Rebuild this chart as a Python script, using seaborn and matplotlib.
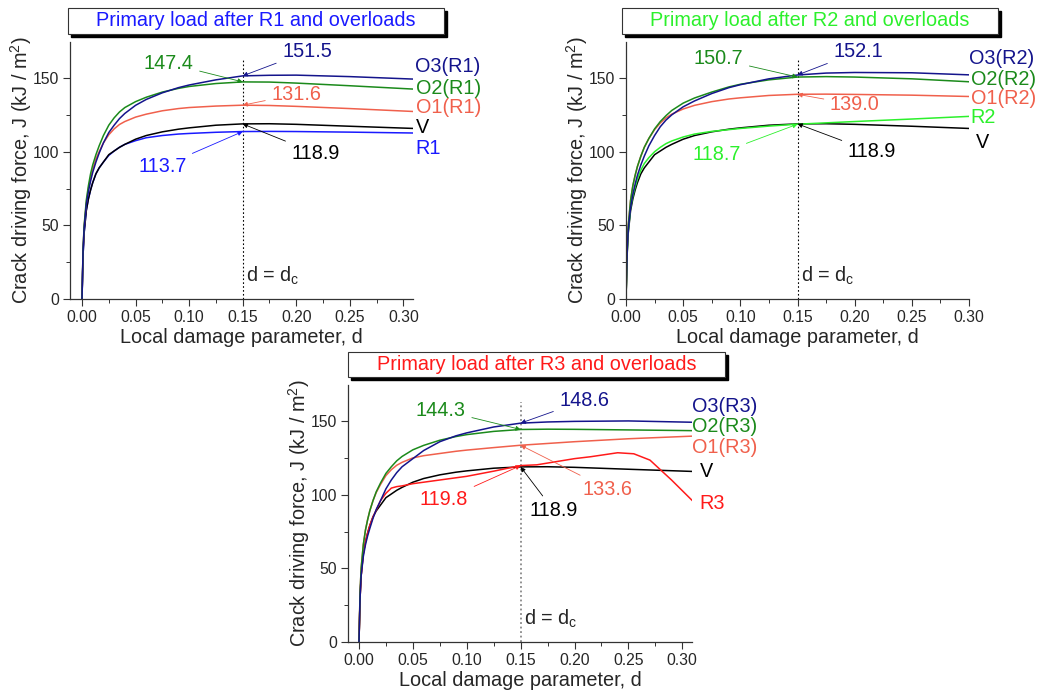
import matplotlib
matplotlib.use("Agg")
import matplotlib.pyplot as plt
import seaborn as sns
import pandas as pd
from matplotlib.patches import Rectangle
from matplotlib.ticker import MultipleLocator

# ---------------- data ----------------
D_C = 0.15
D_GRID = [0.000, 0.001, 0.002, 0.004, 0.006, 0.008, 0.010, 0.013, 0.016, 0.020,
          0.025, 0.030, 0.035, 0.040, 0.050, 0.060, 0.075, 0.090, 0.100, 0.125,
          0.150, 0.175, 0.200, 0.250, 0.310]
D_GRID2 = [0.000, 0.001, 0.002, 0.004, 0.006, 0.008, 0.010, 0.013, 0.016, 0.020,
           0.025, 0.030, 0.035, 0.040, 0.050, 0.060, 0.075, 0.090, 0.100, 0.125,
           0.150, 0.175, 0.200, 0.250, 0.300]

J_V = [0, 30, 45, 60, 68, 74, 79, 85, 89, 93, 98, 100.5, 103, 105, 108.5, 111,
       113.5, 115.3, 116.2, 118, 118.9, 119, 118.6, 117.3, 115.8]

# Panel R1
J_R1 = [0, 30, 45, 60, 68, 74, 79, 85, 89, 93, 97.5, 100.5, 103, 105, 107.5, 109.5,
        111, 112, 112.4, 113.2, 113.7, 113.8, 113.7, 113.3, 112.7]
J_O1_R1 = [0, 33, 49, 65, 75, 82, 88, 95, 100, 106, 111.5, 115.5, 118.5, 120.5, 123.5,
           125.5, 127.8, 129.3, 130, 131, 131.6, 131.4, 130.8, 129.3, 127.3]
J_O2_R1 = [0, 34, 50, 67, 77, 85, 91, 98, 104, 111, 118, 123, 127, 130, 134, 137,
           140.5, 143, 144.3, 146.3, 147.4, 147.3, 146.6, 144.8, 142.5]
J_O3_R1 = [0, 33, 48, 64, 73, 80, 86, 93, 99, 106, 113, 118, 122.5, 126, 131.5, 135.5,
           140, 143.5, 145.3, 148.8, 151.5, 151.9, 152.0, 151.0, 149.3]

# Panel R2
J_R2 = [0, 31, 46, 62, 70, 76, 81.5, 87.5, 92, 96, 100, 103, 105.5, 107.3, 110, 112,
        113.8, 115, 115.8, 117.4, 118.7, 119.6, 120.5, 122.2, 124.0]
J_O1_R2 = [0, 34, 50, 67, 77, 84, 90, 97, 103, 109, 115, 119.5, 123, 125.5, 129,
           131.5, 134, 135.8, 136.6, 138.2, 139.0, 139.1, 138.9, 138.4, 137.5]
J_O2_R2 = [0, 34, 50, 67, 77, 84, 90, 97, 103, 109, 115.5, 120.5, 124.5, 128, 133,
           136.5, 140.5, 144, 145.8, 148.8, 150.7, 151, 150.7, 149.5, 147.5]
J_O3_R2 = [0, 32, 47, 62, 71, 78, 84, 91, 97, 104, 111, 117, 121.5, 125, 130.5,
           134.5, 139.5, 143.5, 145.5, 149.5, 152.1, 153.4, 153.8, 153.6, 152.2]

# Panel R3
D_R3 = [0.000, 0.001, 0.002, 0.004, 0.006, 0.008, 0.010, 0.013, 0.016, 0.020, 0.025,
        0.030, 0.035, 0.040, 0.050, 0.060, 0.075, 0.090, 0.100, 0.125, 0.150, 0.165,
        0.175, 0.200, 0.215, 0.240, 0.255, 0.270, 0.290, 0.310]
J_R3 = [0, 30, 45, 60, 68, 74, 79, 85, 89.5, 96, 101, 104.5, 105.5, 106, 107.5, 108.5,
        110, 111.5, 112.5, 116, 119.8, 120.3, 121.5, 124.5, 125.8, 128.5, 127.8, 123.5,
        110, 95.5]
J_O1_R3 = [0, 34, 50, 66, 76, 83, 89, 96, 101.5, 107, 113, 117, 120, 122, 125, 126.5,
           128, 129.5, 130.3, 132, 133.6, 134.8, 136, 138, 139.8]
J_O2_R3 = [0, 34, 50, 66, 76, 83, 89, 96, 102, 108, 114.5, 119, 123, 126, 130.5, 133.5,
           137, 139.5, 140.8, 143, 144.3, 144.5, 144.4, 144, 143.5]
J_O3_R3 = [0, 30, 45, 58, 66, 72, 77, 84, 90, 96, 104, 110, 115, 119, 124.5, 130,
           136, 140, 142, 146, 148.6, 149.4, 149.8, 150.1, 149.2]

YTICKS = [0, 50, 100, 150]
XTICKS = [0.00, 0.05, 0.10, 0.15, 0.20, 0.25, 0.30]

# ---------------- style ----------------
NAVY = "#14148c"
GREEN = "#1b8a1b"
SALMON = "#f0604c"
BLUE = "#1a1aff"
LIME = "#2cf02c"
RED = "#ff1a1a"
BLACK = "#000000"

sns.set_style("ticks")
plt.rcParams['font.family'] = ['Liberation Sans', 'DejaVu Sans']
plt.rcParams['mathtext.default'] = 'regular'

fig = plt.figure(figsize=(10.37, 6.91), dpi=100)
W, H = 1037, 691


def fig_rect(x0, y0, x1, y1):
    return [x0 / W, 1 - y1 / H, (x1 - x0) / W, (y1 - y0) / H]


panels = [
    dict(rect=fig_rect(70, 42, 413, 299), xlim=(-0.0112, 0.309),
         title="Primary load after R1 and overloads", tcolor=BLUE,
         box=(68, 8, 444, 34), dline=dict(color="black", lw=0.8, ls=(0, (1.5, 2))),
         curves=[(D_GRID, J_R1, BLUE), (D_GRID, J_V, BLACK), (D_GRID, J_O1_R1, SALMON),
                 (D_GRID, J_O2_R1, GREEN), (D_GRID, J_O3_R1, NAVY)],
         ann=[(151.5, NAVY, 0.210, 168), (147.4, GREEN, 0.081, 160),
              (131.6, SALMON, 0.200, 139), (118.9, BLACK, 0.218, 99),
              (113.7, BLUE, 0.075, 90)],
         labels=[("O3(R1)", NAVY, 0.311, 158), ("O2(R1)", GREEN, 0.312, 143),
                 ("O1(R1)", SALMON, 0.312, 130), ("V", BLACK, 0.312, 116.5),
                 ("R1", BLUE, 0.311, 102)]),
    dict(rect=fig_rect(626, 42, 969, 299), xlim=(0.0, 0.30),
         title="Primary load after R2 and overloads", tcolor=LIME,
         box=(622, 8, 998, 34), dline=dict(color="black", lw=0.8, ls=(0, (1.5, 2))),
         curves=[(D_GRID2, J_V, BLACK), (D_GRID2, J_R2, LIME), (D_GRID2, J_O1_R2, SALMON),
                 (D_GRID2, J_O2_R2, GREEN), (D_GRID2, J_O3_R2, NAVY)],
         ann=[(152.1, NAVY, 0.203, 168), (150.7, GREEN, 0.081, 163),
              (139.0, SALMON, 0.200, 132), (118.9, BLACK, 0.215, 100),
              (118.7, LIME, 0.079, 98)],
         labels=[("O3(R2)", NAVY, 0.300, 163), ("O2(R2)", GREEN, 0.3015, 149),
                 ("O1(R2)", SALMON, 0.3015, 136), ("R2", LIME, 0.3015, 123),
                 ("V", BLACK, 0.306, 106)]),
    dict(rect=fig_rect(348, 385, 692, 642), xlim=(-0.0102, 0.309),
         title="Primary load after R3 and overloads", tcolor=RED,
         box=(348, 352, 725, 377), dline=dict(color="#888888", lw=1.3, ls=(0, (1, 1.5))),
         curves=[(D_GRID, J_V, BLACK), (D_R3, J_R3, RED), (D_GRID, J_O1_R3, SALMON),
                 (D_GRID, J_O2_R3, GREEN), (D_GRID, J_O3_R3, NAVY)],
         ann=[(148.6, NAVY, 0.209, 164), (144.3, GREEN, 0.076, 157.5),
              (133.6, SALMON, 0.231, 103.7), (119.8, RED, 0.079, 96.5),
              (118.9, BLACK, 0.181, 89)],
         labels=[("O3(R3)", NAVY, 0.309, 160), ("O2(R3)", GREEN, 0.309, 146),
                 ("O1(R3)", SALMON, 0.309, 132), ("V", BLACK, 0.3165, 116),
                 ("R3", RED, 0.316, 94)]),
]

FS_TICK = 11.3
FS_LAB = 14.3
FS_ANN = 14.3
FS_TITLE = 14.3

for p in panels:
    ax = fig.add_axes(p["rect"])
    for xs, ys, c in p["curves"]:
        df = pd.DataFrame({"d": xs, "J": ys})
        sns.lineplot(data=df, x="d", y="J", color=c, lw=1.1, ax=ax, sort=False,
                     estimator=None)
    ax.set_xlim(*p["xlim"])
    ax.set_ylim(0, 174.5)
    ax.set_xticks(XTICKS)
    ax.set_xticklabels([f"{t:.2f}" for t in XTICKS])
    ax.set_yticks(YTICKS)
    ax.xaxis.set_minor_locator(MultipleLocator(0.025))
    ax.yaxis.set_minor_locator(MultipleLocator(25))
    ax.tick_params(which="major", direction="out", length=5, width=0.8,
                   labelsize=FS_TICK, color="#333333", pad=3)
    ax.tick_params(which="minor", direction="out", length=3, width=0.7, color="#333333")
    for s in ["top", "right"]:
        ax.spines[s].set_visible(False)
    for s in ["left", "bottom"]:
        ax.spines[s].set_color("#333333")
        ax.spines[s].set_linewidth(0.9)
    ax.set_xlabel("Local damage parameter, d", fontsize=FS_LAB, labelpad=2)
    ax.set_ylabel("Crack driving force, J (kJ / m$^2$)", fontsize=FS_LAB, labelpad=-1.5)

    ax.vlines(D_C, 0, 163, colors=p["dline"]["color"], linewidth=p["dline"]["lw"],
              linestyles=[p["dline"]["ls"]], zorder=1)
    ax.text(D_C + 0.003, 16, "d = d$_c$", fontsize=FS_ANN, ha="left", va="center")

    for val, c, tx, ty in p["ann"]:
        ax.annotate(f"{val:.1f}", xy=(D_C, val), xytext=(tx, ty), fontsize=FS_ANN,
                    color=c, ha="center", va="center",
                    arrowprops=dict(arrowstyle="-|>", color=c, lw=0.6,
                                    mutation_scale=7, shrinkA=2, shrinkB=0))
    for name, c, tx, ty in p["labels"]:
        ax.text(tx, ty, name, color=c, fontsize=FS_ANN, ha="left", va="center",
                clip_on=False)

    # title box with shadow
    x0, y0, x1, y1 = p["box"]
    sh = 3
    fig.patches.append(Rectangle(((x0 + sh) / W, 1 - (y1 + sh) / H), (x1 - x0) / W,
                                 (y1 - y0) / H, transform=fig.transFigure,
                                 facecolor="black", edgecolor="black", zorder=1))
    fig.patches.append(Rectangle((x0 / W, 1 - y1 / H), (x1 - x0) / W, (y1 - y0) / H,
                                 transform=fig.transFigure, facecolor="white",
                                 edgecolor="#333333", lw=0.8, zorder=2))
    fig.text((x0 + x1) / 2 / W, 1 - (y0 + y1) / 2 / H, p["title"], color=p["tcolor"],
             fontsize=FS_TITLE, ha="center", va="center", zorder=3)

fig.savefig("out.png", dpi=100)
